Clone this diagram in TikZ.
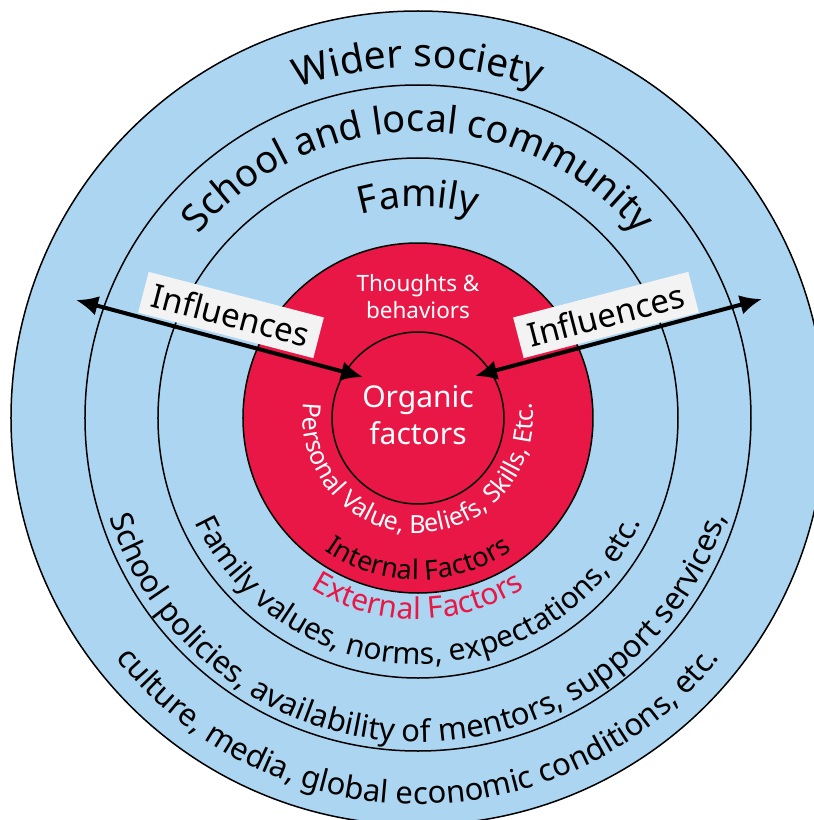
\documentclass[tikz,border=0pt]{standalone}
\usepackage{fontspec}
\setmainfont{Noto Sans}
\usetikzlibrary{decorations.text, arrows.meta}
\definecolor{skyfill}{RGB}{171,213,240}
\definecolor{crimson}{RGB}{233,23,70}
\definecolor{boxfill}{RGB}{243,243,243}
\begin{document}
\begin{tikzpicture}[x=1pt,y=1pt,
  ring/.style={circle, draw=black, line width=1.5pt, inner sep=0pt},
  influencebox/.style={fill=boxfill, minimum width=181pt, minimum height=42pt, inner sep=0pt, font=\fontsize{33}{33}\selectfont},
  influencearrow/.style={line width=4pt, {Latex[length=22pt,width=20pt]}-{Latex[length=22pt,width=20pt]}},
  arctext/.style n args={2}{decorate, decoration={text along path, text align=center, text color=#1, text={#2}}},
  ]
\useasboundingbox (-418,-402) rectangle (396,418);
\clip (-418,-402) rectangle (396,418);
\fill[white] (-418,-402) rectangle (396,418);
\coordinate (C) at (0,0);
\node[ring, fill=skyfill, minimum size=814pt] (outer) at (C) {};
\node[ring, minimum size=666pt] (school) at (C) {};
\node[ring, minimum size=520pt] (family) at (C) {};
\node[ring, fill=crimson, minimum size=350pt] (internal) at (C) {};
\node[ring, minimum size=172pt] (organic) at (C) {};

% top arc labels (clockwise paths)
\path[arctext={black}{|\fontsize{39}{39}\selectfont|Wider society}] (200:351) arc[start angle=200, end angle=-20, radius=351];
\path[arctext={black}{|\fontsize{38}{38}\selectfont|School and local community}] (200:286) arc[start angle=200, end angle=-20, radius=286];
\path[arctext={black}{|\fontsize{38}{38}\selectfont|Family}] (200:211) arc[start angle=200, end angle=-20, radius=211];

% bottom arc labels (counter-clockwise paths)
\path[arctext={white}{|\fontsize{25}{25}\selectfont|Personal Value, Beliefs, Skills, Etc.}] (150:115) arc[start angle=150, end angle=390, radius=115];
\path[arctext={black}{|\fontsize{27}{27}\selectfont|Internal Factors}] (160:162) arc[start angle=160, end angle=380, radius=162];
\path[arctext={crimson}{|\fontsize{30}{30}\selectfont|External Factors}] (160:201) arc[start angle=160, end angle=380, radius=201];
\path[arctext={black}{|\fontsize{30}{30}\selectfont|Family values, norms, expectations, etc.}] (140:246) arc[start angle=140, end angle=400, radius=246];
\path[arctext={black}{|\fontsize{31}{31}\selectfont|School policies, availability of mentors, support services,}] (140:324) arc[start angle=140, end angle=400, radius=324];
\path[arctext={black}{|\fontsize{31}{31}\selectfont|culture, media, global economic conditions, etc.}] (140:386) arc[start angle=140, end angle=400, radius=386];

% centre texts
\node[text=white, align=center, font=\fontsize{22.5}{27}\selectfont] (thoughts) at (0,121.5) {Thoughts \&\\behaviors};
\node[text=white, align=center, font=\fontsize{30}{37}\selectfont] (organiclabel) at (0,3) {Organic\\factors};

% influences
\node[influencebox, rotate=-14.6] (leftbox) at (-187,103) {Influences};
\node[influencebox, rotate=14.6] (rightbox) at (188,103) {Influences};
\coordinate (leftout) at (-342,118);
\coordinate (leftin) at (-55,41);
\coordinate (rightin) at (57,42);
\coordinate (rightout) at (344,119);
\draw[influencearrow] (leftout) -- (leftin);
\draw[influencearrow] (rightin) -- (rightout);
\end{tikzpicture}
\end{document}
